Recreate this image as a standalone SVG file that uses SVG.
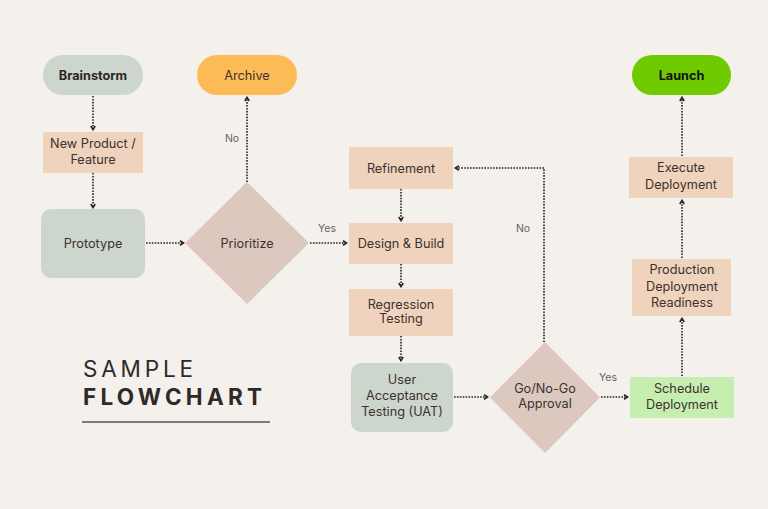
<svg xmlns="http://www.w3.org/2000/svg" width="768" height="509" viewBox="0 0 768 509">
<defs>
<style>
text{font-family:Inter,"Noto Sans",sans-serif;fill:#3a322f;font-size:12.7px;text-anchor:middle}
.b{font-weight:700;fill:#2b2624}
.lbl{font-size:10.5px;fill:#6b625e}
.sage{fill:#ccd6cc}
.peach{fill:#f0d3bc}
.dia{fill:#ddc8bf}
.con path{fill:none;stroke:#2a2522;stroke-width:1.6;stroke-dasharray:1.6 1.3}
</style>
<marker id="ah" viewBox="0 0 6 6" refX="5" refY="3" markerWidth="6" markerHeight="6" markerUnits="userSpaceOnUse" orient="auto">
<path d="M1,0.8 L4.6,3 L1,5.2" fill="none" stroke="#2a2522" stroke-width="1.6"/>
</marker>
</defs>
<rect width="768" height="509" fill="#f4f0eb"/>

<g id="title">
<text x="83" y="377" textLength="110" lengthAdjust="spacing" style="font-size:22.5px;text-anchor:start;fill:#2e2a28">SAMPLE</text>
<text x="83" y="405" textLength="179" lengthAdjust="spacing" style="font-size:22.5px;font-weight:700;text-anchor:start;fill:#2e2a28">FLOWCHART</text>
<line x1="82" y1="422" x2="270" y2="422" stroke="#555" stroke-width="1.3"/>
</g>

<g class="con">
<path d="M93,96 V130" marker-end="url(#ah)"/>
<path d="M93,173 V208" marker-end="url(#ah)"/>
<path d="M146,243 H184" marker-end="url(#ah)"/>
<path d="M247,182 V97" marker-end="url(#ah)"/>
<path d="M310,243 H347" marker-end="url(#ah)"/>
<path d="M401,189 V221" marker-end="url(#ah)"/>
<path d="M401,264 V287" marker-end="url(#ah)"/>
<path d="M401,336 V361" marker-end="url(#ah)"/>
<path d="M454,397 H488" marker-end="url(#ah)"/>
<path d="M544,342 V168 H455" marker-end="url(#ah)"/>
<path d="M601,397 H628" marker-end="url(#ah)"/>
<path d="M682,376 V318" marker-end="url(#ah)"/>
<path d="M682,258 V200" marker-end="url(#ah)"/>
<path d="M682,156 V97" marker-end="url(#ah)"/>
<text class="lbl" x="232" y="142">No</text>
<text class="lbl" x="327" y="232">Yes</text>
<text class="lbl" x="523" y="232">No</text>
<text class="lbl" x="608" y="381">Yes</text>
</g>

<g id="brainstorm">
<rect class="sage" x="43" y="55" width="100" height="40" rx="20"/>
<text class="b" x="93" y="79.5">Brainstorm</text>
</g>
<g id="archive">
<rect x="197" y="55" width="100" height="40" rx="20" fill="#fdbb58"/>
<text x="247" y="79.5">Archive</text>
</g>
<g id="newproduct">
<rect class="peach" x="43" y="132" width="100" height="41"/>
<text x="93" y="148">New Product /</text>
<text x="93" y="164">Feature</text>
</g>
<g id="prototype">
<rect class="sage" x="41" y="209" width="104" height="69" rx="10"/>
<text x="93" y="248">Prototype</text>
</g>
<g id="prioritize">
<polygon class="dia" points="247,182 309,243 247,304 185,243"/>
<text x="247" y="247.5">Prioritize</text>
</g>
<g id="refinement">
<rect class="peach" x="349" y="147" width="104" height="42"/>
<text x="401" y="172.5">Refinement</text>
</g>
<g id="designbuild">
<rect class="peach" x="349" y="223" width="104" height="41"/>
<text x="401" y="247.5">Design &amp; Build</text>
</g>
<g id="regression">
<rect class="peach" x="349" y="289" width="104" height="47"/>
<text x="401" y="309">Regression</text>
<text x="401" y="323">Testing</text>
</g>
<g id="uat">
<rect class="sage" x="351" y="363" width="102" height="69" rx="10"/>
<text x="402" y="384">User</text>
<text x="402" y="400">Acceptance</text>
<text x="402" y="416">Testing (UAT)</text>
</g>
<g id="gonogo">
<polygon class="dia" points="545,342 600,397.5 545,453 490,397.5"/>
<text x="545" y="393">Go/No-Go</text>
<text x="545" y="408">Approval</text>
</g>
<g id="schedule">
<rect x="630" y="377" width="104" height="41" fill="#c6eeb0"/>
<text x="682" y="393">Schedule</text>
<text x="682" y="409">Deployment</text>
</g>
<g id="production">
<rect class="peach" x="632" y="259" width="99" height="57"/>
<text x="682" y="274">Production</text>
<text x="682" y="291">Deployment</text>
<text x="682" y="307">Readiness</text>
</g>
<g id="execute">
<rect class="peach" x="629" y="157" width="104" height="41"/>
<text x="681" y="172">Execute</text>
<text x="681" y="189">Deployment</text>
</g>
<g id="launch">
<rect x="632" y="55" width="99" height="40" rx="20" fill="#6fcb00"/>
<text class="b" x="681.5" y="79.5" style="fill:#111">Launch</text>
</g>
</svg>
